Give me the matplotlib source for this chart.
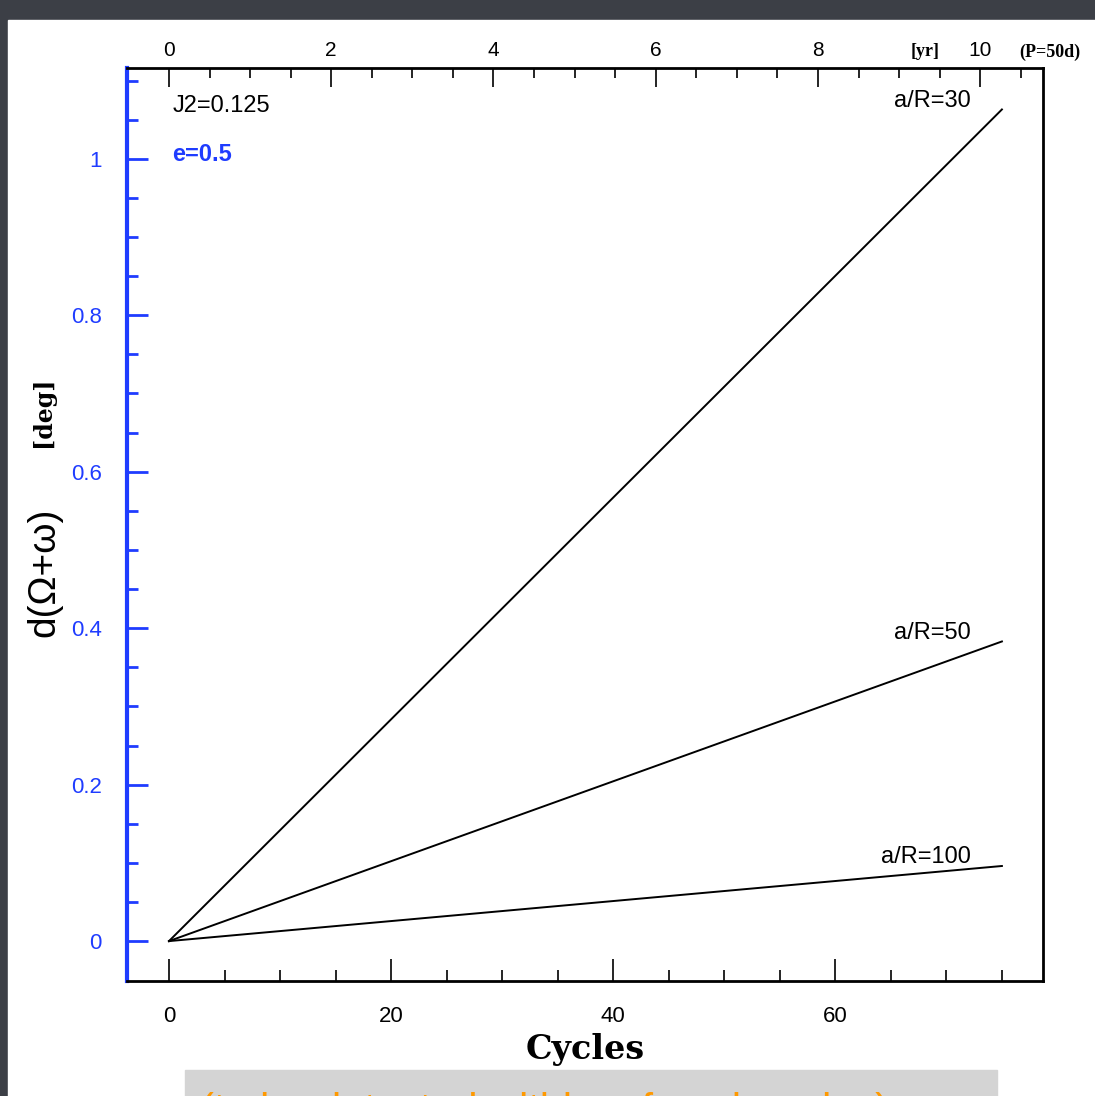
import matplotlib
matplotlib.use("Agg")
import matplotlib.pyplot as plt
from matplotlib.patches import Rectangle

# precession of (Omega+omega) vs number of orbital cycles
cycles = [0, 75]
dlt_30 = [0, 1.063]
dlt_50 = [0, 0.383]
dlt_100 = [0, 0.096]
labels = ["a/R=30", "a/R=50", "a/R=100"]
period_days = 50.0

blue = "#1f3cff"

fig = plt.figure(figsize=(10.95, 10.96), dpi=100)
fig.patch.set_facecolor("#3c3f46")
# white slide panel
fig.patches.append(Rectangle((8 / 1095, 0), 1 - 8 / 1095, 1 - 20 / 1096,
                             transform=fig.transFigure, color="white", zorder=-2))
# grey caption box at the bottom
fig.patches.append(Rectangle((185 / 1095, 0), (997 - 185) / 1095, 26 / 1096,
                             transform=fig.transFigure, color="#d4d4d4", zorder=-1))
fig.text(200 / 1095, -27 / 1096, "(to be detected within a few decades)", color="#ff9900",
         fontsize=30, family="Liberation Sans", ha="left", va="baseline")

ax = fig.add_axes([127 / 1095, 1 - 981 / 1096, (1043 - 127) / 1095, (981 - 68) / 1096])
ax.set_facecolor("white")

for y in (dlt_30, dlt_50, dlt_100):
    ax.plot(cycles, y, color="black", lw=1.4)

ax.set_xlim(-3.78, 78.7)
ax.set_ylim(-0.051, 1.116)

ax.set_xticks([0, 20, 40, 60])
ax.set_xticks(range(0, 80, 5), minor=True)
ax.set_yticks([0, 0.2, 0.4, 0.6, 0.8, 1])
ax.set_yticklabels(["0", "0.2", "0.4", "0.6", "0.8", "1"])
ax.set_yticks([i * 0.05 for i in range(23)], minor=True)

ax.tick_params(axis="x", which="both", direction="in", top=False, colors="black",
               labelsize=16, pad=18)
ax.tick_params(axis="x", which="major", length=16, width=1.2)
ax.tick_params(axis="x", which="minor", length=8, width=1.2)
ax.tick_params(axis="y", which="both", direction="in", right=False, colors=blue,
               labelsize=16, pad=18)
ax.tick_params(axis="y", which="major", length=15, width=2)
ax.tick_params(axis="y", which="minor", length=8, width=2)
for lab in ax.get_xticklabels() + ax.get_yticklabels():
    lab.set_family("Liberation Sans")

for side in ("top", "right", "bottom"):
    ax.spines[side].set_linewidth(2)
    ax.spines[side].set_color("black")
ax.spines["left"].set_linewidth(3)
ax.spines["left"].set_color(blue)

# top axis in years
sec = ax.secondary_xaxis("top", functions=(lambda c: c * period_days / 365.25,
                                           lambda t: t * 365.25 / period_days))
sec.set_xticks([0, 2, 4, 6, 8, 10])
sec.set_xticks([i * 0.5 for i in range(22)], minor=True)
sec.tick_params(which="both", direction="in", labelsize=15, pad=6)
sec.tick_params(which="major", length=14, width=1.2)
sec.tick_params(which="minor", length=7, width=1.2)
for lab in sec.get_xticklabels():
    lab.set_family("Liberation Sans")
sec.spines["top"].set_visible(False)

fig.text(925 / 1095, 1 - 52 / 1096, "[yr]", fontsize=13, family="Liberation Serif",
         weight="bold", ha="center", va="center")
fig.text(1050 / 1095, 1 - 52 / 1096, "(P=50d)", fontsize=13, family="Liberation Serif",
         weight="bold", ha="center", va="center")

# annotations
ax.text(0.3, 1.068, "J2=0.125", fontsize=17, family="Liberation Sans", va="center")
ax.text(0.3, 1.005, "e=0.5", fontsize=17, family="Liberation Sans", weight="bold",
        color=blue, va="center")
for lab, y in zip(labels, (dlt_30, dlt_50, dlt_100)):
    ax.text(72.2, y[-1] + 0.011, lab, fontsize=17,
            family="Liberation Sans", ha="right", va="center")

ax.set_xlabel("Cycles", fontsize=24, family="DejaVu Serif", weight="bold", labelpad=4)

fig.text(44 / 1095, 1 - 572 / 1096, "d(\u03a9+\u03c9)", fontsize=28, family="Liberation Sans",
         rotation=90, ha="center", va="center")
fig.text(43 / 1095, 1 - 412 / 1096, "[deg]", fontsize=17, family="DejaVu Serif",
         weight="bold", rotation=90, ha="center", va="center")

fig.savefig("out.png", dpi=100, facecolor=fig.get_facecolor())
